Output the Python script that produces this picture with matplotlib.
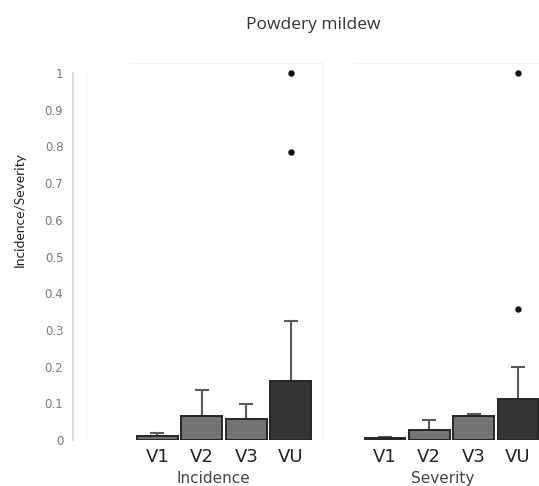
import matplotlib
matplotlib.use("Agg")
import matplotlib.pyplot as plt
import numpy as np

plt.rcParams['font.family'] = ['Open Sans', 'DejaVu Sans']

categories = ["V1", "V2", "V3", "VU"]
incidence = [0.011, 0.065, 0.057, 0.161]
incidence_err = [0.008, 0.071, 0.041, 0.163]
incidence_outliers = [1.0, 0.785]
severity = [0.005, 0.027, 0.065, 0.112]
severity_err = [0.003, 0.027, 0.006, 0.088]
severity_outliers = [1.0, 0.357]
yticks = [0, 0.1, 0.2, 0.3, 0.4, 0.5, 0.6, 0.7, 0.8, 0.9, 1]
bar_colors = ["#767373", "#767373", "#767373", "#353535"]

W, H = 539, 486
fig = plt.figure(figsize=(W / 100, H / 100), dpi=100)

def px_axes(x0, x1, ytop, ybot):
    return fig.add_axes([x0 / W, 1 - ybot / H, (x1 - x0) / W, (ybot - ytop) / H])

ymax = (440 - 63) / 367.0

def draw_panel(ax, vals, errs, outliers, xlim, group_label, label_x):
    x = np.arange(len(categories))
    ax.bar(x, vals, width=0.92, color=bar_colors, edgecolor="#262626", linewidth=1.4, zorder=2)
    ax.errorbar(x, vals, yerr=[np.zeros(len(vals)), errs], fmt="none", ecolor="#5a5a5a",
                elinewidth=1.5, capsize=5, capthick=1.5, zorder=1)
    ax.plot([3] * len(outliers), outliers, "o", color="#111111", markersize=3.6, zorder=3)
    ax.set_xlim(*xlim)
    ax.set_ylim(0, ymax)
    ax.set_xticks(x)
    ax.set_xticklabels(categories, fontsize=13, color="#222222", family=["DejaVu Sans"])
    ax.tick_params(axis="x", length=0, pad=6)
    for s in ["top", "right", "bottom"]:
        ax.spines[s].set_color("#f3f3f3")
        ax.spines[s].set_linewidth(0.8)
    ax.spines["bottom"].set_visible(False)
    ax.text(label_x, -0.103, group_label, transform=ax.get_xaxis_transform(),
            ha="center", va="center", fontsize=11, color="#444444", family=["DejaVu Sans"])

# Left panel (Incidence) with y axis
ax1 = px_axes(73, 322, 63, 440)
draw_panel(ax1, incidence, incidence_err, incidence_outliers, (-1.9, 3.7), "Incidence", 1.25)
ax1.spines["left"].set_color("#d4d4d4")
ax1.spines["left"].set_linewidth(1.2)
ax1.spines["left"].set_bounds(0, 1)
ax1.spines["top"].set_bounds(-0.65, 3.7)
ax1.set_yticks(yticks)
ax1.set_yticklabels([f"{t:g}" for t in yticks], fontsize=8.5, color="#7a7a7a",
                    family=["DejaVu Sans"])
ax1.tick_params(axis="y", length=0, pad=7)
ax1.axvline(-1.58, color="#f8f8f8", lw=0.8, ymax=1 / ymax, zorder=0)

# Right panel (Severity)
ax2 = px_axes(353, 580, 63, 440)
draw_panel(ax2, severity, severity_err, severity_outliers, (-0.72, 4.4), "Severity", 1.3)
ax2.spines["left"].set_visible(False)
ax2.set_yticks([])

fig.text(313 / W, 1 - 25 / H, "Powdery mildew", ha="center", va="center", fontsize=12.5, color="#333333")
fig.text(20 / W, 1 - 210 / H, "Incidence/Severity", ha="center", va="center", rotation=90,
         fontsize=10, color="#222222", family=["Lato", "DejaVu Sans"])

fig.savefig("out.png", dpi=100, facecolor="white")
